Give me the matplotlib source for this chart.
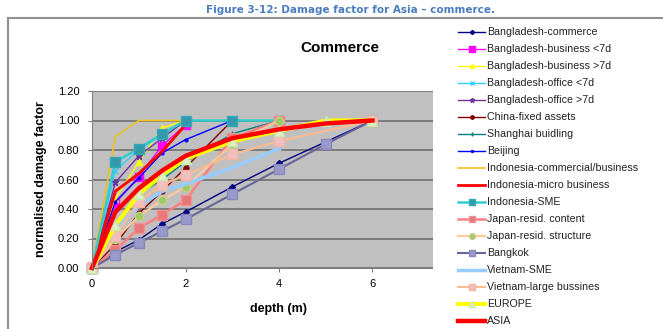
import numpy as np
import matplotlib.pyplot as plt
from matplotlib.lines import Line2D
from matplotlib.patches import Rectangle

plt.rcParams['font.family'] = ['Liberation Sans', 'DejaVu Sans']

#--- data (depth in m, normalised damage factor)
bd_commerce_x = [0, 0.5, 1, 1.5, 2, 3, 4, 6]
bd_commerce_y = [0, 0.11, 0.19, 0.30, 0.38, 0.55, 0.71, 1.0]
bd_bus_lt_x = [0, 0.5, 1, 1.5, 2]
bd_bus_lt_y = [0, 0.44, 0.62, 0.83, 0.97]
bd_bus_gt_x = [0, 0.5, 1, 1.5, 2]
bd_bus_gt_y = [0, 0.47, 0.72, 0.95, 1.0]
bd_off_lt_x = [0, 0.5, 1, 1.5, 2]
bd_off_lt_y = [0, 0.66, 0.80, 0.90, 1.0]
bd_off_gt_x = [0, 0.5, 1, 1.5, 2]
bd_off_gt_y = [0, 0.58, 0.76, 0.88, 1.0]
china_x = [0, 0.5, 1, 1.5, 2, 3]
china_y = [0, 0.16, 0.37, 0.52, 0.68, 1.0]
shanghai_x = [0, 0.5, 1, 1.5, 2, 3, 4]
shanghai_y = [0, 0.30, 0.50, 0.60, 0.72, 0.91, 1.0]
beijing_x = [0, 0.5, 1, 1.5, 2, 3]
beijing_y = [0, 0.45, 0.61, 0.78, 0.87, 1.0]
indo_comm_x = [0, 0.5, 1, 1.5, 2]
indo_comm_y = [0, 0.89, 1.0, 1.0, 1.0]
indo_micro_x = [0, 0.5, 1, 1.5, 2]
indo_micro_y = [0, 0.52, 0.64, 0.79, 0.97]
indo_sme_x = [0, 0.5, 1, 1.5, 2, 3, 4]
indo_sme_y = [0, 0.72, 0.81, 0.91, 1.0, 1.0, 1.0]
jp_content_x = [0, 0.5, 1, 1.5, 2, 3, 4]
jp_content_y = [0, 0.12, 0.27, 0.36, 0.46, 0.88, 1.0]
jp_struct_x = [0, 0.5, 1, 1.5, 2, 3, 4]
jp_struct_y = [0, 0.20, 0.35, 0.46, 0.55, 0.84, 1.0]
bangkok_x = [0, 0.5, 1, 1.5, 2, 3, 4, 5, 6]
bangkok_y = [0, 0.09, 0.17, 0.25, 0.33, 0.50, 0.67, 0.84, 1.0]
vn_sme_x = [0, 0.5, 1, 1.5, 2, 3, 4]
vn_sme_y = [0, 0.26, 0.42, 0.52, 0.57, 0.68, 0.81]
vn_large_x = [0, 0.5, 1, 1.5, 2, 3, 4, 6]
vn_large_y = [0, 0.22, 0.45, 0.565, 0.63, 0.77, 0.86, 1.0]
europe_x = [0, 0.5, 1, 1.5, 2, 3, 4, 5, 6]
europe_y = [0, 0.29, 0.50, 0.63, 0.74, 0.86, 0.93, 1.0, 1.0]
asia_x = [0, 0.5, 1, 1.5, 2, 3, 4, 5, 6]
asia_y = [0, 0.38, 0.54, 0.66, 0.76, 0.88, 0.94, 0.98, 1.0]

names = ['Bangladesh-commerce', 'Bangladesh-business <7d', 'Bangladesh-business >7d',
         'Bangladesh-office <7d', 'Bangladesh-office >7d', 'China-fixed assets',
         'Shanghai buidling', 'Beijing', 'Indonesia-commercial/business',
         'Indonesia-micro business', 'Indonesia-SME', 'Japan-resid. content',
         'Japan-resid. structure', 'Bangkok', 'Vietnam-SME', 'Vietnam-large bussines',
         'EUROPE', 'ASIA']
series = [(bd_commerce_x, bd_commerce_y), (bd_bus_lt_x, bd_bus_lt_y), (bd_bus_gt_x, bd_bus_gt_y),
          (bd_off_lt_x, bd_off_lt_y), (bd_off_gt_x, bd_off_gt_y), (china_x, china_y),
          (shanghai_x, shanghai_y), (beijing_x, beijing_y), (indo_comm_x, indo_comm_y),
          (indo_micro_x, indo_micro_y), (indo_sme_x, indo_sme_y), (jp_content_x, jp_content_y),
          (jp_struct_x, jp_struct_y), (bangkok_x, bangkok_y), (vn_sme_x, vn_sme_y),
          (vn_large_x, vn_large_y), (europe_x, europe_y), (asia_x, asia_y)]

# line colour, width, marker, marker size, marker face, marker edge
styles = [
    ('#000080', 1.0, 'D', 3.0, '#000080', '#000080'),
    ('#FF00FF', 1.0, 's', 6.0, '#FF00FF', '#FF00FF'),
    ('#FFFF00', 1.0, '^', 4.0, '#FFFF00', '#FFFF00'),
    ('#33CCFF', 1.0, 'x', 4.0, '#33CCFF', '#33CCFF'),
    ('#7030A0', 1.0, '*', 5.0, '#7030A0', '#7030A0'),
    ('#800000', 1.0, 'o', 3.5, '#800000', '#800000'),
    ('#008080', 1.0, '+', 4.0, '#008080', '#008080'),
    ('#0000FF', 1.0, 'o', 2.0, '#0000FF', '#0000FF'),
    ('#F0C020', 1.2, None, 0, 'none', 'none'),
    ('#FF0000', 2.0, None, 0, 'none', 'none'),
    ('#33CCCC', 1.8, 's', 7.0, '#3399AA', '#33AABB'),
    ('#FF8080', 1.8, 's', 7.0, '#E87878', '#F09090'),
    ('#FFCC99', 1.5, 'o', 6.0, '#99CC66', '#CCCC88'),
    ('#666699', 1.5, 's', 7.0, '#9999CC', '#8888BB'),
    ('#99CCFF', 2.5, '.', 3.0, '#99CCFF', '#99CCFF'),
    ('#FFBB90', 1.5, 's', 6.5, '#F0C0C0', '#F5B5A0'),
    ('#FFFF00', 3.0, '^', 7.0, '#E0F0C0', '#C8E8B0'),
    ('#FF0000', 3.2, None, 0, 'none', 'none'),
]

fig = plt.figure(figsize=(6.63, 3.29), dpi=100)
ax = fig.add_axes([92/663, 1-268/329, 374/663, 177/329])
ax.set_facecolor('#C0C0C0')

handles = []
for (xs, ys), (c, lw, mk, ms, mf, me), nm in zip(series, styles, names):
    ln, = ax.plot(xs, ys, color=c, lw=lw, marker=mk, ms=ms, mfc=mf, mec=me,
                  mew=1.0, clip_on=False, label=nm)
    handles.append(ln)

ax.set_xlim(0, 8)
ax.set_ylim(0, 1.2)
ax.set_xticks([0, 2, 4, 6])
ax.set_yticks(np.arange(0, 1.21, 0.2))
ax.set_yticklabels(['%.2f' % v for v in np.arange(0, 1.21, 0.2)])
ax.yaxis.grid(True, color='#707070', lw=1.2)
ax.set_axisbelow(True)
ax.tick_params(labelsize=8, length=3, color='#808080')
ax.tick_params(axis='x', pad=5)
ax.tick_params(axis='y', pad=6)
for s in ax.spines.values():
    s.set_color('#808080')
ax.set_xlabel('depth (m)', fontsize=9, fontweight='bold', labelpad=10)
ax.set_ylabel('normalised damage factor', fontsize=9, fontweight='bold', labelpad=8)

# white area of the legend sits over the right part of the plot
fig.patches.append(Rectangle((433/663, 0), 1, 1 - 18/329, transform=fig.transFigure,
                             facecolor='white', edgecolor='none', zorder=1))
# chart border
fig.lines.append(Line2D([8/663, 1], [1-18/329, 1-18/329], transform=fig.transFigure,
                        color='#909090', lw=1.5))
fig.lines.append(Line2D([8/663, 8/663], [0, 1-18/329], transform=fig.transFigure,
                        color='#909090', lw=1.5))

leg = fig.legend(handles=handles, loc='upper left', bbox_to_anchor=(453/663, 1-22/329),
                 frameon=False, fontsize=7.7, handlelength=2.5, handletextpad=0.2,
                 labelspacing=0.655, borderpad=0, markerscale=0.7)
for t in leg.get_texts():
    t.set_color('#222222')

fig.text(351/663, 1-10/329, 'Figure 3-12: Damage factor for Asia \u2013 commerce.',
         ha='center', va='center', fontsize=7.5, fontweight='bold', color='#4A7DBF',
         family='DejaVu Sans')
fig.text(340/663, 1-48/329, 'Commerce', ha='center', va='center', fontsize=11,
         fontweight='bold')

fig.savefig('out.png', dpi=100)
